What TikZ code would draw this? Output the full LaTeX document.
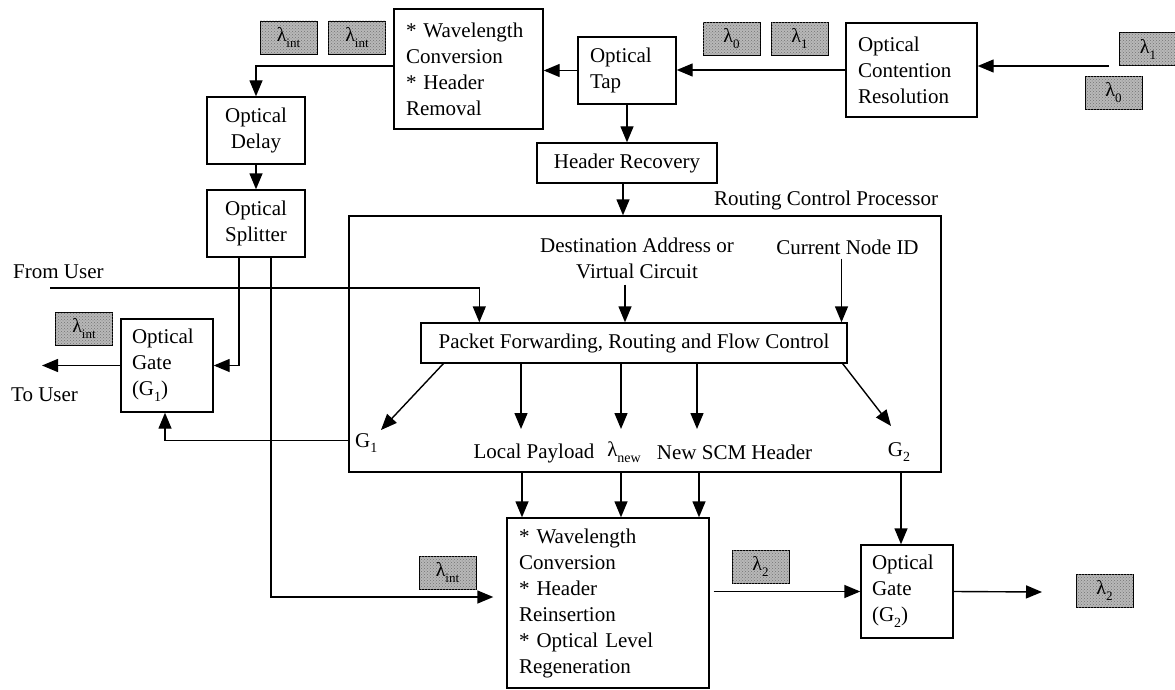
\documentclass[tikz,border=0pt]{standalone}
\usepackage{fontspec}
\setmainfont{Liberation Serif}
\usetikzlibrary{arrows.meta,calc,patterns}
\newcommand{\sbs}[1]{\raisebox{-0.28em}{\fontsize{14}{14}\selectfont #1}}
\newcommand{\lsub}[1]{λ\raisebox{-0.3em}{\fontsize{13}{13}\selectfont #1}}
\tikzset{
  box/.style={draw, line width=1.4pt, inner xsep=12pt, inner ysep=0pt, font=\fontsize{21}{26}\selectfont},
  lbl/.style={inner sep=0pt, font=\fontsize{21}{26}\selectfont},
  lam/.style={draw, line width=0.8pt, fill=black!28, postaction={pattern=crosshatch dots, pattern color=black!55}, minimum width=57pt, minimum height=33pt, inner sep=0pt, font=\fontsize{20}{20}\selectfont},
  arr/.style={line width=1.4pt, -{Triangle[length=16pt,width=13pt]}},
}
\begin{document}
\begin{tikzpicture}[x=1pt,y=-1pt]
\useasboundingbox (0,0) rectangle (1175,690);
% lambda tags
\node[lam] (li1) at (288.5,37.5) {\lsub{int}};
\node[lam] (li2) at (357,37.5) {\lsub{int}};
\node[lam] (l0) at (731.5,38.5) {\lsub{0}};
\node[lam] (l1) at (799.5,38.5) {\lsub{1}};
\node[lam] (l1r) at (1148,49) {\lsub{1}};
\node[lam] (l0r) at (1113.5,93) {\lsub{0}};
\node[lam] (li3) at (84,328.5) {\lsub{int}};
\node[lam] (li4) at (447.5,572.5) {\lsub{int}};
\node[lam] (l2) at (760.5,566.5) {\lsub{2}};
\node[lam] (l2r) at (1104.5,590.5) {\lsub{2}};
% boxes
\node[box, minimum width=149, minimum height=120, text width=125, align=left] (wc1) at (468.5,69) {* Wavelength\\Conversion\\{*} Header\\Removal};
\node[box, minimum width=98, minimum height=67, text width=74, align=left] (tap) at (627,70.5) {Optical\\Tap};
\node[box, minimum width=131, minimum height=94, text width=107, align=left] (ocr) at (911.5,70) {Optical\\Contention\\Resolution};
\node[box, minimum width=98, minimum height=67, text width=74, align=center] (delay) at (256,130.5) {Optical\\Delay};
\node[box, minimum width=98, minimum height=67, text width=74, align=center] (splitter) at (256,223.5) {Optical\\Splitter};
\node[box, minimum width=180, minimum height=40] (hr) at (627,163) {Header Recovery};
\node[draw, line width=1.4pt, minimum width=592, minimum height=256, inner sep=0pt] (rcp) at (645,344) {};
\node[box, minimum width=426, minimum height=40, inner xsep=4pt] (pf) at (634,343) {Packet Forwarding, Routing and Flow Control};
\node[box, minimum width=92, minimum height=93, text width=70, inner xsep=11pt, align=left] (g1) at (167,365.5) {Optical\\Gate\\(G\sbs{1})};
\node[box, minimum width=202, minimum height=170, text width=178, align=left] (wc2) at (608,603) {* Wavelength\\Conversion\\{*} Header\\Reinsertion\\{*} Optical Level\\Regeneration};
\node[box, minimum width=92, minimum height=93, text width=70, inner xsep=11pt, align=left] (g2) at (907,591.5) {Optical\\Gate\\(G\sbs{2})};
% labels
\node[lbl] (rcplab) at (826,200) {Routing Control Processor};
\node[lbl, align=center] (dest) at (637,258) {Destination Address or\\Virtual Circuit};
\node[lbl] (cur) at (847.5,247) {Current Node ID};
\node[lbl, anchor=west] (fromu) at (13,272) {From User};
\node[lbl, anchor=west] (tou) at (11,395) {To User};
\node[lbl, anchor=west] (g1lab) at (355,443) {G\sbs{1}};
\node[lbl] (lp) at (534,453) {Local Payload};
\node[lbl] (lnew) at (624,452) {λ\sbs{new}};
\node[lbl] (scm) at (734.5,452) {New SCM Header};
\node[lbl] (g2lab) at (899,452) {G\sbs{2}};
% coordinates for free ends
\coordinate (in) at (1109,66);
\coordinate (fu) at (50,288);
\coordinate (tu) at (42,365.5);
\coordinate (out) at (1042,592);
\coordinate (xlp) at (521,429);
\coordinate (xnew) at (621,429);
\coordinate (xscm) at (697,429);
\coordinate (g1tip) at (381,430);
\coordinate (g2tip) at (891,426);
% connectors
\draw[arr] (in) -- (in -| ocr.east);
\draw[arr] (ocr.west) -- (ocr.west -| tap.east);
\draw[arr] (tap.west) -- (tap.west -| wc1.east);
\draw[arr] ([yshift=3]wc1.west) -| (delay.north);
\draw[arr] (delay.south) -- (splitter.north);
\draw[arr] (tap.south) -- (hr.north);
\draw[arr] ([xshift=-4]hr.south) -- ([xshift=-4]hr.south |- rcp.north);
\draw[arr] ([xshift=-12,yshift=-6]dest.south) -- ([xshift=-12]dest.south |- pf.north);
\draw[arr] ([xshift=-6,yshift=-4]cur.south) -- ([xshift=-6]cur.south |- pf.north);
\draw[arr] (fu) -| ([xshift=59]pf.north west);
\draw[arr] ([xshift=23]pf.south west) -- (g1tip);
\draw[arr] (xlp |- pf.south) -- (xlp);
\draw[arr] (xnew |- pf.south) -- (xnew);
\draw[arr] (xscm |- pf.south) -- (xscm);
\draw[arr] ([xshift=-5]pf.south east) -- (g2tip);
\draw[arr] ([xshift=1]xlp |- rcp.south) -- ([xshift=1]xlp |- wc2.north);
\draw[arr] (xnew |- rcp.south) -- (xnew |- wc2.north);
\draw[arr] ([xshift=2]xscm |- rcp.south) -- ([xshift=2]xscm |- wc2.north);
\draw[arr] ([xshift=-6]g2.north |- rcp.south) -- ([xshift=-6]g2.north);
\draw[arr] ([yshift=32]rcp.south west) -| ([xshift=-2]g1.south);
\draw[arr] (g1.west) -- (tu);
\draw[arr] ([xshift=-17]splitter.south) |- (g1.east);
\draw[arr] ([xshift=15]splitter.south) |- ([xshift=-13,yshift=6]wc2.west);
\draw[arr] ([xshift=4]wc2.east |- g2.west) -- (g2.west);
\draw[arr] (g2.east) -- (out);
\end{tikzpicture}
\end{document}
